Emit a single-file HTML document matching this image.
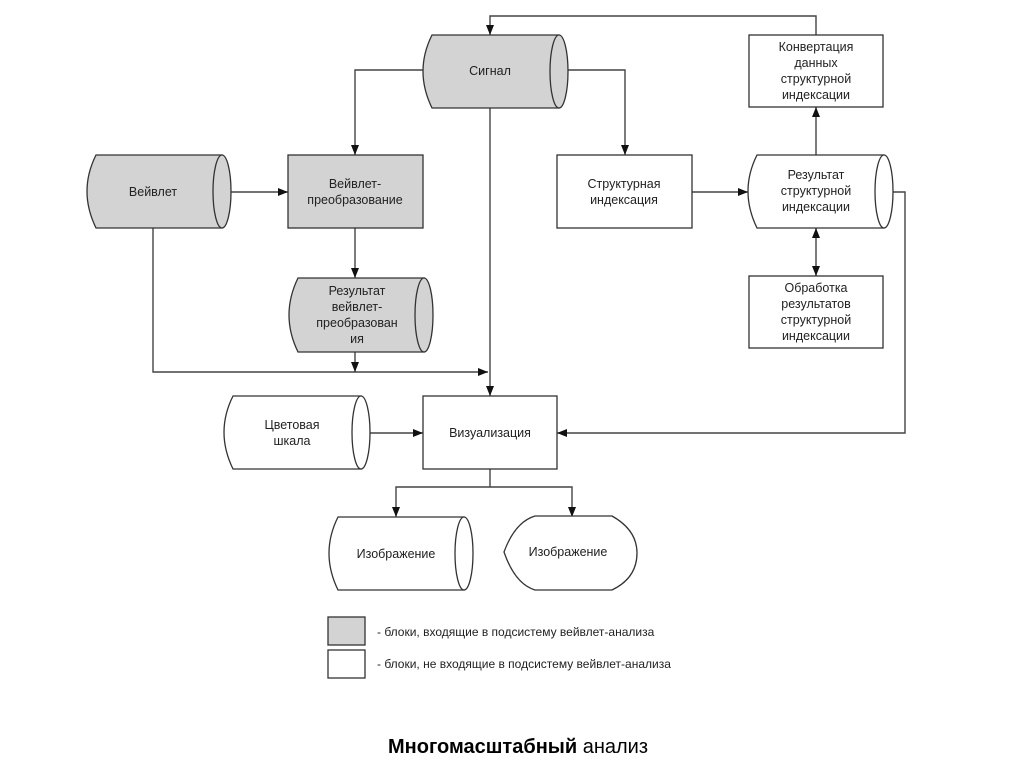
<!DOCTYPE html>
<html><head><meta charset="utf-8"><style>
body{margin:0;background:#fff}
svg text{font-family:"Liberation Sans",sans-serif;font-size:12.5px;fill:#222}
</style></head><body>
<svg width="1024" height="768" viewBox="0 0 1024 768" xmlns="http://www.w3.org/2000/svg">
<defs><marker id="a" viewBox="0 0 10 10" refX="10" refY="5" markerWidth="10" markerHeight="10" markerUnits="userSpaceOnUse" orient="auto-start-reverse"><path d="M0,1 L10,5 L0,9 z" fill="#111"/></marker></defs>
<g stroke="#444" stroke-width="1.4" fill="none">
<!-- connectors -->
<polyline points="816,35 816,16 490,16 490,35" marker-end="url(#a)"/>
<polyline points="423,70 355,70 355,155" marker-end="url(#a)"/>
<polyline points="568,70 625,70 625,155" marker-end="url(#a)"/>
<line x1="231" y1="192" x2="288" y2="192" marker-end="url(#a)"/>
<line x1="355" y1="228" x2="355" y2="278" marker-end="url(#a)"/>
<polyline points="153,228 153,372 488,372" marker-end="url(#a)"/>
<line x1="355" y1="352" x2="355" y2="372" marker-end="url(#a)"/>
<line x1="490" y1="108" x2="490" y2="396" marker-end="url(#a)"/>
<line x1="692" y1="192" x2="748" y2="192" marker-end="url(#a)"/>
<line x1="816" y1="155" x2="816" y2="107" marker-end="url(#a)"/>
<line x1="816" y1="228" x2="816" y2="276" marker-start="url(#a)" marker-end="url(#a)"/>
<polyline points="893,192 905,192 905,433 557,433" marker-end="url(#a)"/>
<line x1="370" y1="433" x2="423" y2="433" marker-end="url(#a)"/>
<polyline points="490,469 490,487"/>
<polyline points="396,517 396,487 572,487 572,517" marker-start="url(#a)" marker-end="url(#a)"/>
</g>
<g stroke="#333" stroke-width="1.3">
<!-- Signal -->
<path d="M432,35 L559,35 L559,108 L432,108 Q414,71 432,35 Z" fill="#d3d3d3"/>
<ellipse cx="559" cy="71.5" rx="9" ry="36.5" fill="#d3d3d3"/>
<!-- Wavelet -->
<path d="M96,155 L222,155 L222,228 L96,228 Q78,191 96,155 Z" fill="#d3d3d3"/>
<ellipse cx="222" cy="191.5" rx="9" ry="36.5" fill="#d3d3d3"/>
<rect x="288" y="155" width="135" height="73" fill="#d3d3d3"/>
<!-- Result wavelet -->
<path d="M298,278 L424,278 L424,352 L298,352 Q280,315 298,278 Z" fill="#d3d3d3"/>
<ellipse cx="424" cy="315" rx="9" ry="37" fill="#d3d3d3"/>
<rect x="557" y="155" width="135" height="73" fill="#fff"/>
<path d="M757,155 L884,155 L884,228 L757,228 Q739,191 757,155 Z" fill="#fff"/>
<ellipse cx="884" cy="191.5" rx="9" ry="36.5" fill="#fff"/>
<rect x="749" y="35" width="134" height="72" fill="#fff"/>
<rect x="749" y="276" width="134" height="72" fill="#fff"/>
<rect x="423" y="396" width="134" height="73" fill="#fff"/>
<path d="M233,396 L361,396 L361,469 L233,469 Q215,432 233,396 Z" fill="#fff"/>
<ellipse cx="361" cy="432.5" rx="9" ry="36.5" fill="#fff"/>
<path d="M338,517 L464,517 L464,590 L338,590 Q320,553 338,517 Z" fill="#fff"/>
<ellipse cx="464" cy="553.5" rx="9" ry="36.5" fill="#fff"/>
<path d="M504,552 Q515,522 535,516 L612,516 Q637,530 637,553 Q637,578 612,590 L535,590 Q515,584 504,552 Z" fill="#fff"/>
<rect x="328" y="617" width="37" height="28" fill="#d3d3d3"/>
<rect x="328" y="650" width="37" height="28" fill="#fff"/>
</g>
<g text-anchor="middle">
<text x="490" y="75">Сигнал</text>
<text x="153" y="196">Вейвлет</text>
<text x="355" y="188">Вейвлет-</text><text x="355" y="204">преобразование</text>
<text x="357" y="295">Результат</text><text x="357" y="311">вейвлет-</text><text x="357" y="327">преобразован</text><text x="357" y="343">ия</text>
<text x="624" y="188">Структурная</text><text x="624" y="204">индексация</text>
<text x="816" y="179">Результат</text><text x="816" y="195">структурной</text><text x="816" y="211">индексации</text>
<text x="816" y="51">Конвертация</text><text x="816" y="67">данных</text><text x="816" y="83">структурной</text><text x="816" y="99">индексации</text>
<text x="816" y="292">Обработка</text><text x="816" y="308">результатов</text><text x="816" y="324">структурной</text><text x="816" y="340">индексации</text>
<text x="490" y="437">Визуализация</text>
<text x="292" y="429">Цветовая</text><text x="292" y="445">шкала</text>
<text x="396" y="558">Изображение</text>
<text x="568" y="556">Изображение</text>
</g>
<text x="377" y="636" style="font-size:12px">- блоки, входящие в подсистему вейвлет-анализа</text>
<text x="377" y="668" style="font-size:12px">- блоки, не входящие в подсистему вейвлет-анализа</text>
<text x="388" y="753" style="font-size:20px;fill:#000"><tspan font-weight="bold">Многомасштабный</tspan> анализ</text>
</svg>
</body></html>
